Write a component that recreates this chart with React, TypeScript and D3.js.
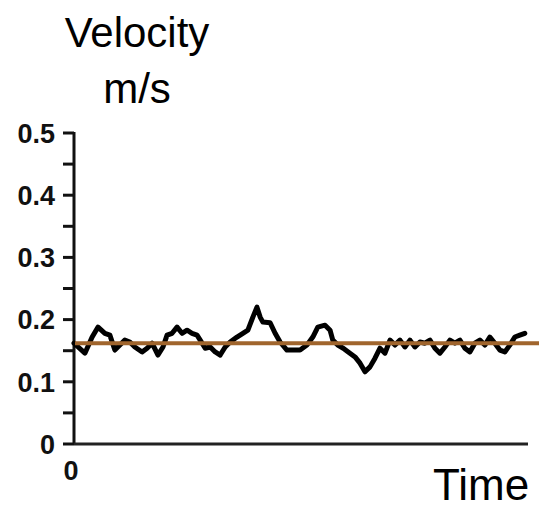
import React from "react";
import * as d3 from "d3";

const times = [0, 2.4, 4.0, 5.3, 6.8, 7.9, 9.0, 10.1, 11.2, 12.3, 13.4, 15.0, 16.1, 17.2, 18.5, 19.6, 20.5, 21.6, 22.7, 23.8, 24.9, 26.0, 27.1, 27.8, 28.9, 30.0, 31.1, 32.2, 33.3, 34.4, 35.9, 37.2, 38.3, 39.4, 40.3, 41.0, 41.6, 43.2, 44.3, 45.4, 46.9, 49.8, 51.3, 52.6, 53.7, 55.3, 56.4, 57.0, 58.1, 59.3, 60.4, 61.9, 63.0, 64.1, 65.2, 66.3, 67.4, 68.5, 69.6, 70.7, 71.8, 72.9, 74.0, 75.1, 76.2, 77.3, 78.4, 79.5, 80.6, 81.7, 82.8, 83.9, 85.0, 86.1, 87.2, 88.3, 89.4, 90.5, 91.6, 92.7, 93.8, 94.9, 96.0, 97.1, 98.2, 99.3];
const velocity = [0.162, 0.146, 0.172, 0.188, 0.178, 0.175, 0.151, 0.159, 0.167, 0.164, 0.156, 0.148, 0.154, 0.162, 0.143, 0.156, 0.175, 0.178, 0.188, 0.178, 0.183, 0.178, 0.175, 0.167, 0.154, 0.156, 0.148, 0.143, 0.156, 0.164, 0.172, 0.178, 0.183, 0.204, 0.220, 0.204, 0.196, 0.195, 0.178, 0.164, 0.151, 0.151, 0.159, 0.172, 0.188, 0.191, 0.183, 0.167, 0.159, 0.154, 0.148, 0.140, 0.130, 0.116, 0.124, 0.138, 0.154, 0.146, 0.167, 0.159, 0.167, 0.156, 0.167, 0.156, 0.164, 0.162, 0.167, 0.154, 0.146, 0.156, 0.167, 0.162, 0.167, 0.154, 0.148, 0.162, 0.167, 0.159, 0.172, 0.162, 0.151, 0.148, 0.159, 0.172, 0.175, 0.178];
const meanVelocity = 0.162;
const yTickLabels = [0, 0.1, 0.2, 0.3, 0.4, 0.5];
const yMinorTicks = [0, 0.05, 0.1, 0.15, 0.2, 0.25, 0.3, 0.35, 0.4, 0.45, 0.5];
const xTickLabels = [0];

const FONT = "'Liberation Sans', Arial, Helvetica, sans-serif";

export default function App() {
  const W = 539;
  const H = 510;
  const x = d3.scaleLinear().domain([0, 100]).range([74, 528]);
  const y = d3.scaleLinear().domain([0, 0.5]).range([444, 133]);
  const line = d3
    .line<number>()
    .x((_, i) => x(times[i]))
    .y((d) => y(d))
    .curve(d3.curveLinear);

  return (
    <svg
      width={W}
      height={H}
      style={{ position: "absolute", left: 0, top: 0, background: "#fff" }}
    >
      <text x={137} y={47} textAnchor="middle" fontFamily={FONT} fontSize={42} fill="#000">
        Velocity
      </text>
      <text x={137} y={103} textAnchor="middle" fontFamily={FONT} fontSize={42} fill="#000">
        m/s
      </text>

      {/* y axis */}
      <line x1={x(0)} x2={x(0)} y1={y(0.5) - 1} y2={y(0) + 1} stroke="#111" strokeWidth={3} />
      {yMinorTicks.map((t) => (
        <line key={t} x1={63} x2={x(0)} y1={y(t)} y2={y(t)} stroke="#111" strokeWidth={3} />
      ))}
      {yTickLabels.map((t) => (
        <text
          key={t}
          x={55}
          y={y(t)}
          dy="0.36em"
          textAnchor="end"
          fontFamily={FONT}
          fontWeight="bold"
          fontSize={27}
          fill="#111"
        >
          {t === 0 ? "0" : t.toFixed(1)}
        </text>
      ))}

      {/* x axis */}
      <line x1={x(0)} x2={x(100)} y1={y(0)} y2={y(0)} stroke="#222" strokeWidth={3} />
      {xTickLabels.map((t) => (
        <text
          key={t}
          x={x(t) - 3}
          y={480}
          textAnchor="middle"
          fontFamily={FONT}
          fontWeight="bold"
          fontSize={27}
          fill="#111"
        >
          {t}
        </text>
      ))}
      <text x={433} y={500} fontFamily={FONT} fontSize={44} fill="#000">
        Time
      </text>

      {/* velocity trace */}
      <path
        d={line(velocity) || ""}
        fill="none"
        stroke="#000"
        strokeWidth={5}
        strokeLinejoin="round"
        strokeLinecap="round"
      />
      {/* mean line */}
      <line
        x1={x(0) + 1}
        x2={W}
        y1={y(meanVelocity)}
        y2={y(meanVelocity)}
        stroke="#a0652d"
        strokeWidth={4}
      />
    </svg>
  );
}
